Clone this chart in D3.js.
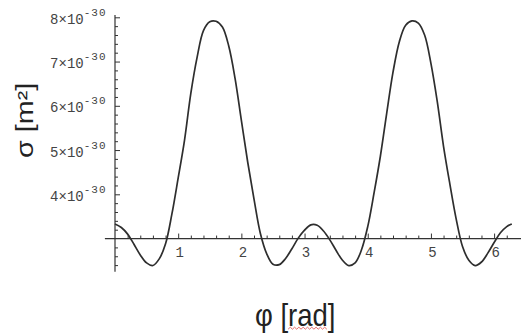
<!DOCTYPE html>
<html>
<head>
<meta charset="utf-8">
<script src="https://cdn.jsdelivr.net/npm/d3@7"></script>
<style>
  html, body { margin: 0; padding: 0; background: #fff; }
  svg { display: block; }
</style>
</head>
<body>
<svg id="chart" width="521" height="336"></svg>
<script>
// Angle φ in radians
const phi = [
  0.0, 0.1, 0.2, 0.3, 0.4, 0.5, 0.6, 0.7, 0.8, 0.9,
  1.0, 1.1, 1.2, 1.3, 1.4, 1.5, 1.6, 1.7, 1.8, 1.9,
  2.0, 2.1, 2.2, 2.3, 2.4, 2.5, 2.6, 2.7, 2.8, 2.9,
  3.0, 3.1, 3.2, 3.3, 3.4, 3.5, 3.6, 3.7, 3.8, 3.9,
  4.0, 4.1, 4.2, 4.3, 4.4, 4.5, 4.6, 4.7, 4.8, 4.9,
  5.0, 5.1, 5.2, 5.3, 5.4, 5.5, 5.6, 5.7, 5.8, 5.9,
  6.0, 6.1, 6.2, 6.28
];

// Cross section σ, in units of 10^-30 m²
const sigma = [
  3.33, 3.25, 3.10, 2.87, 2.63, 2.45, 2.39, 2.54, 2.88, 3.55,
  4.37, 5.22, 6.28, 7.10, 7.70, 7.90, 7.91, 7.78, 7.35, 6.62,
  5.67, 4.73, 3.89, 3.12, 2.66, 2.42, 2.41, 2.55, 2.77, 3.01,
  3.19, 3.31, 3.30, 3.17, 2.97, 2.73, 2.51, 2.39, 2.45, 2.74,
  3.27, 4.03, 4.86, 5.83, 6.76, 7.45, 7.82, 7.92, 7.87, 7.60,
  6.96, 6.10, 5.08, 4.23, 3.44, 2.82, 2.51, 2.39, 2.47, 2.67,
  2.91, 3.13, 3.27, 3.33
];

// Axis ticks
const xMajorTicks = [1, 2, 3, 4, 5, 6];
const xMinorTicks = d3.range(1, 32).map(i => +(i * 0.2).toFixed(1)).filter(v => !xMajorTicks.includes(v));
const yMajorTicks = [4, 5, 6, 7, 8];
const yTickMantissas = ["4", "5", "6", "7", "8"];
const yTickExponent = "-30";
const yMinorTicks = d3.range(12, 41).map(i => +(i * 0.2).toFixed(1)).filter(v => !yMajorTicks.includes(v) && v !== 3);
const axisOriginY = 3;   // x axis crosses at 3×10^-30

const xTitle = "φ [rad]";
const yTitle = "σ [m²]";

const svg = d3.select("#chart");
const ink = "#333";
const textInk = "#444";
const monoFont = "'Liberation Mono', 'DejaVu Sans Mono', monospace";

const x = d3.scaleLinear().domain([0, 2 * Math.PI]).range([115, 512]);
const y = d3.scaleLinear().domain([4, 8]).range([194.3, 17.3]);

const axisY = y(axisOriginY);
const axisX = x(0);

// Axis lines
svg.append("line")
  .attr("x1", x(-0.16)).attr("x2", 521)
  .attr("y1", axisY).attr("y2", axisY)
  .attr("stroke", ink).attr("stroke-width", 1.2);
svg.append("line")
  .attr("x1", axisX).attr("x2", axisX)
  .attr("y1", y(8.05)).attr("y2", y(2.25))
  .attr("stroke", ink).attr("stroke-width", 1.2);

// X axis ticks (pointing up) and labels
const xAxisMajor = d3.axisBottom(x).tickValues(xMajorTicks)
  .tickSizeInner(-5).tickSizeOuter(0).tickPadding(9)
  .tickFormat(d3.format("d"));
const xAxisMinor = d3.axisBottom(x).tickValues(xMinorTicks)
  .tickSizeInner(-3).tickSizeOuter(0).tickFormat("");

const gxMinor = svg.append("g").attr("transform", `translate(0,${axisY})`).call(xAxisMinor);
const gxMajor = svg.append("g").attr("transform", `translate(0,${axisY})`).call(xAxisMajor);

// Y axis ticks (pointing right) and labels
const yAxisMajor = d3.axisLeft(y).tickValues(yMajorTicks)
  .tickSizeInner(-5).tickSizeOuter(0).tickPadding(9)
  .tickFormat("");
const yAxisMinor = d3.axisLeft(y).tickValues(yMinorTicks)
  .tickSizeInner(-3).tickSizeOuter(0).tickFormat("");

const gyMinor = svg.append("g").attr("transform", `translate(${axisX},0)`).call(yAxisMinor);
const gyMajor = svg.append("g").attr("transform", `translate(${axisX},0)`).call(yAxisMajor);

[gxMinor, gxMajor, gyMinor, gyMajor].forEach(g => {
  g.select(".domain").remove();
  g.selectAll(".tick line").attr("stroke", ink).attr("stroke-width", 1);
});

gxMajor.selectAll(".tick text")
  .attr("font-family", monoFont)
  .attr("font-size", 14)
  .attr("x", 1)
  .attr("fill", textInk);

// Scientific labels: mantissa ×10 with a raised exponent
gyMajor.selectAll(".tick").each(function(d, i) {
  const t = d3.select(this).select("text")
    .attr("font-family", monoFont)
    .attr("fill", textInk)
    .attr("text-anchor", "end")
    .attr("x", -8.5)
    .attr("dy", null)
    .attr("y", 6);
  t.text(null);
  t.append("tspan").attr("font-size", 14).text(yTickMantissas[i] + "×10");
  t.append("tspan").attr("font-size", 11).attr("dy", -8)
    .attr("letter-spacing", 1).text(yTickExponent);
});

// Curve
const line = d3.line()
  .x((d, i) => x(phi[i]))
  .y(d => y(d))
  .curve(d3.curveCatmullRom.alpha(0.5));

svg.append("path")
  .datum(sigma)
  .attr("d", line)
  .attr("fill", "none")
  .attr("stroke", "#2e2e2e")
  .attr("stroke-width", 1.7)
  .attr("stroke-linejoin", "round");

// Axis titles
const yTitleG = svg.append("g").attr("transform", "translate(33,158) rotate(-90) scale(1.25,1)");
yTitleG.append("text")
  .attr("font-family", "'Liberation Sans', Arial, sans-serif")
  .attr("font-size", 23)
  .attr("fill", "#222")
  .text(yTitle);

const xTitleG = svg.append("g").attr("transform", "translate(255,326) scale(0.86,1)");
const xTitleText = xTitleG.append("text")
  .attr("font-family", "'Liberation Sans', Arial, sans-serif")
  .attr("font-size", 32)
  .attr("fill", "#222")
  .text(xTitle);

// Spell-check squiggle under "rad"
const node = xTitleText.node();
const start = node.getSubStringLength(0, 3);
const len = node.getSubStringLength(3, 3);
const pts = d3.range(0, Math.floor(len / 2.5) + 1).map(k => [start + k * 2.5, k % 2 ? 1.2 : 3.2]);
xTitleG.append("path")
  .attr("d", d3.line()(pts))
  .attr("fill", "none")
  .attr("stroke", "#e05050")
  .attr("stroke-width", 0.9);
</script>
</body>
</html>
